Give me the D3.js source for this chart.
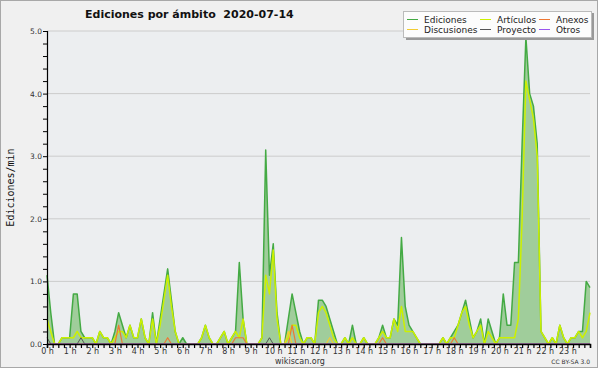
<!DOCTYPE html>
<html><head><meta charset="utf-8">
<script src="https://cdn.jsdelivr.net/npm/d3@7"></script>
<style>body{margin:0;background:#fff}svg{display:block}</style>
</head><body><svg id="c" width="600" height="370"></svg>
<script>
const titleText = "Ediciones por ámbito  2020-07-14";
const yLabel = "Ediciones/min";
const hourLabels = d3.range(0, 24).map(h => h + " h");
const yTicks = [0, 1, 2, 3, 4, 5];
const minutes = d3.range(0, 1441, 10);
const ediciones = [1.1,0.5,0,0,0.1,0.1, 0.1,0.8,0.8,0.2,0.1,0.1, 0.1,0,0.2,0.1,0.1,0, 0.2,0.5,0.3,0.1,0.3,0.1,
 0.1,0.4,0.1,0,0.5,0, 0.4,0.8,1.2,0.7,0.2,0, 0.1,0,0,0,0,0.1, 0.3,0.1,0,0,0.1,0.2,
 0,0.1,0.2,1.3,0.4,0, 0,0,0,0.1,3.1,1.1, 1.6,0.5,0,0,0.4,0.8, 0.5,0.2,0,0.1,0.1,0,
 0.7,0.7,0.6,0.4,0.2,0, 0,0.1,0,0.3,0,0, 0.1,0,0,0,0.1,0.3, 0.1,0.1,0.4,0.3,1.7,0.6,
 0.3,0.2,0.1,0,0,0, 0,0,0,0.1,0,0.1, 0.2,0.3,0.5,0.7,0.4,0.1, 0.2,0.4,0,0.4,0.2,0,
 0.1,0.8,0.3,0.3,1.3,1.3, 3.2,4.9,4.0,3.8,3.2,0.2, 0.1,0,0.1,0,0.3,0.1, 0,0.1,0.1,0.2,0.2,1.0, 0.9];
const articulos = [0.4,0.2,0,0,0.1,0.1, 0.1,0.1,0.2,0.1,0.1,0.1, 0.1,0,0.2,0.1,0.1,0, 0.1,0.2,0.2,0.1,0.3,0.1,
 0.1,0.4,0.1,0,0.4,0, 0.3,0.7,1.1,0.6,0.2,0, 0,0,0,0,0,0.1, 0.3,0.1,0,0,0.1,0.2,
 0,0.1,0.2,0.1,0.4,0, 0,0,0,0.1,1.1,0.8, 1.5,0.4,0,0,0.1,0.3, 0.3,0.1,0,0.1,0.1,0,
 0.5,0.6,0.5,0.3,0.1,0, 0,0.1,0,0.1,0,0, 0.1,0,0,0,0.1,0.2, 0.1,0.1,0.4,0.2,0.6,0.2,
 0.2,0.2,0.1,0,0,0, 0,0,0,0.1,0,0.1, 0.1,0.3,0.5,0.6,0.3,0.1, 0.2,0.3,0,0.2,0.1,0,
 0.1,0.1,0.1,0.1,0.1,0.4, 2.0,4.2,3.9,3.6,3.0,0.2, 0.1,0,0.1,0,0.3,0.1, 0,0.1,0.1,0.2,0.1,0.2, 0.5];
const anexosIdx = [19, 32, 50, 51, 52, 65, 89, 108];
const anexosVal = [0.3, 0.1, 0.1, 0.1, 0.1, 0.3, 0.1, 0.1];
const discusionesIdx = [64, 75];
const discusionesVal = [0.2, 0.1];
const proyectoIdx = [0, 9, 59];
const proyectoVal = [0.1, 0.1, 0.1];
const legendNames = ["Ediciones", "Discusiones", "Artículos", "Proyecto", "Anexos", "Otros"];
const legendColors = ["#44aa44", "#f2cc33", "#ccf000", "#555555", "#ee7733", "#9955ee"];

function sparse(idx, val) {
  const a = minutes.map(() => 0);
  idx.forEach((k, j) => a[k] = val[j]);
  return a;
}
const anexos = sparse(anexosIdx, anexosVal);
const discusiones = sparse(discusionesIdx, discusionesVal);
const proyecto = sparse(proyectoIdx, proyectoVal);
const otros = minutes.map(() => 0);

const svg = d3.select("#c");
const L = 47, R = 590, T = 31, B = 344;
const x = d3.scaleLinear().domain([0, 1440]).range([L, R]);
const y = d3.scaleLinear().domain([0, 5]).range([B, T]);

svg.append("rect").attr("x", 0.5).attr("y", 0.5).attr("width", 597).attr("height", 367)
  .attr("fill", "#f0f0f0").attr("stroke", "#a8a8a8");
svg.append("rect").attr("x", L).attr("y", T).attr("width", R - L).attr("height", B - T).attr("fill", "#eceef0");

// grid
svg.append("g").selectAll("line").data(yTicks.slice(1)).join("line")
  .attr("x1", L).attr("x2", R).attr("y1", d => y(d)).attr("y2", d => y(d))
  .attr("stroke", "#cccccc").attr("stroke-width", 1);

const area = d3.area().x((d, i) => x(minutes[i])).y0(y(0)).y1(d => y(d));
const line = d3.line().x((d, i) => x(minutes[i])).y(d => y(d));

svg.append("path").datum(ediciones).attr("d", area).attr("fill", "#a0cd9b");
const series = [
  [ediciones, legendColors[0], 1.5],
  [articulos, legendColors[2], 1.5],
  [anexos, legendColors[4], 1.2],
  [discusiones, legendColors[1], 1.2],
  [proyecto, legendColors[3], 1],
  [otros, legendColors[5], 1]
];
series.forEach(([d, c, w]) => {
  svg.append("path").datum(d).attr("d", line).attr("fill", "none")
    .attr("stroke", c).attr("stroke-width", w).attr("stroke-linejoin", "round");
});

// y axis
const yAxis = d3.axisLeft(y).tickValues(d3.range(0, 5.01, 0.2)).tickSize(4)
  .tickFormat(d => Math.abs(d - Math.round(d)) < 1e-6 ? d3.format(".1f")(d) : "");
const gy = svg.append("g").attr("transform", `translate(${L},0)`).call(yAxis);
gy.select(".domain").attr("stroke", "#000").attr("stroke-width", 1.2);
gy.selectAll(".tick line").attr("stroke", "#000");
gy.selectAll(".tick text").attr("font-family", "DejaVu Sans").attr("font-size", 7.5).attr("fill", "#333").attr("x", -5);

// x axis
const xAxis = d3.axisBottom(x).tickValues(d3.range(0, 1441, 15)).tickSize(4)
  .tickFormat(d => d % 60 === 0 && d < 1440 ? hourLabels[d / 60] : "");
const gx = svg.append("g").attr("transform", `translate(0,${B})`).call(xAxis);
gx.select(".domain").attr("stroke", "#000").attr("stroke-width", 1.5);
gx.selectAll(".tick line").attr("stroke", "#000").attr("stroke-width", 1.2);
gx.selectAll(".tick text").attr("font-family", "DejaVu Sans").attr("font-size", 8).attr("fill", "#333").attr("y", 4);

// title
svg.append("text").attr("x", 85).attr("y", 18).attr("font-family", "DejaVu Sans")
  .attr("font-weight", "bold").attr("font-size", 11).attr("fill", "#111")
  .style("white-space", "pre").text(titleText);
// y label
svg.append("text").attr("transform", `translate(14,${(T + B) / 2}) rotate(-90)`)
  .attr("text-anchor", "middle").attr("font-family", "DejaVu Sans Mono").attr("font-size", 10)
  .attr("fill", "#111").text(yLabel);

// legend
const lg = svg.append("g");
lg.append("rect").attr("x", 406).attr("y", 13).attr("width", 188).attr("height", 27).attr("fill", "#999");
lg.append("rect").attr("x", 403.5).attr("y", 11.5).attr("width", 188).attr("height", 26)
  .attr("fill", "#fcfcfc").attr("stroke", "#bbb");
const colX = [407, 480, 539];
legendNames.forEach((n, i) => {
  const cx = colX[Math.floor(i / 2)], cy = 19.5 + (i % 2) * 10;
  lg.append("line").attr("x1", cx).attr("x2", cx + 11).attr("y1", cy).attr("y2", cy)
    .attr("stroke", legendColors[i]).attr("stroke-width", 1);
  lg.append("text").attr("x", cx + 17).attr("y", cy + 3.3).attr("font-family", "DejaVu Sans")
    .attr("font-size", 9).attr("fill", "#222").text(n);
});

svg.append("text").attr("x", 300).attr("y", 364).attr("text-anchor", "middle")
  .attr("font-family", "DejaVu Sans").attr("font-size", 8).attr("fill", "#333").text("wikiscan.org");
svg.append("text").attr("x", 590).attr("y", 364).attr("text-anchor", "end")
  .attr("font-family", "DejaVu Sans").attr("font-size", 6).attr("fill", "#333").text("CC BY-SA 3.0");
</script></body></html>
